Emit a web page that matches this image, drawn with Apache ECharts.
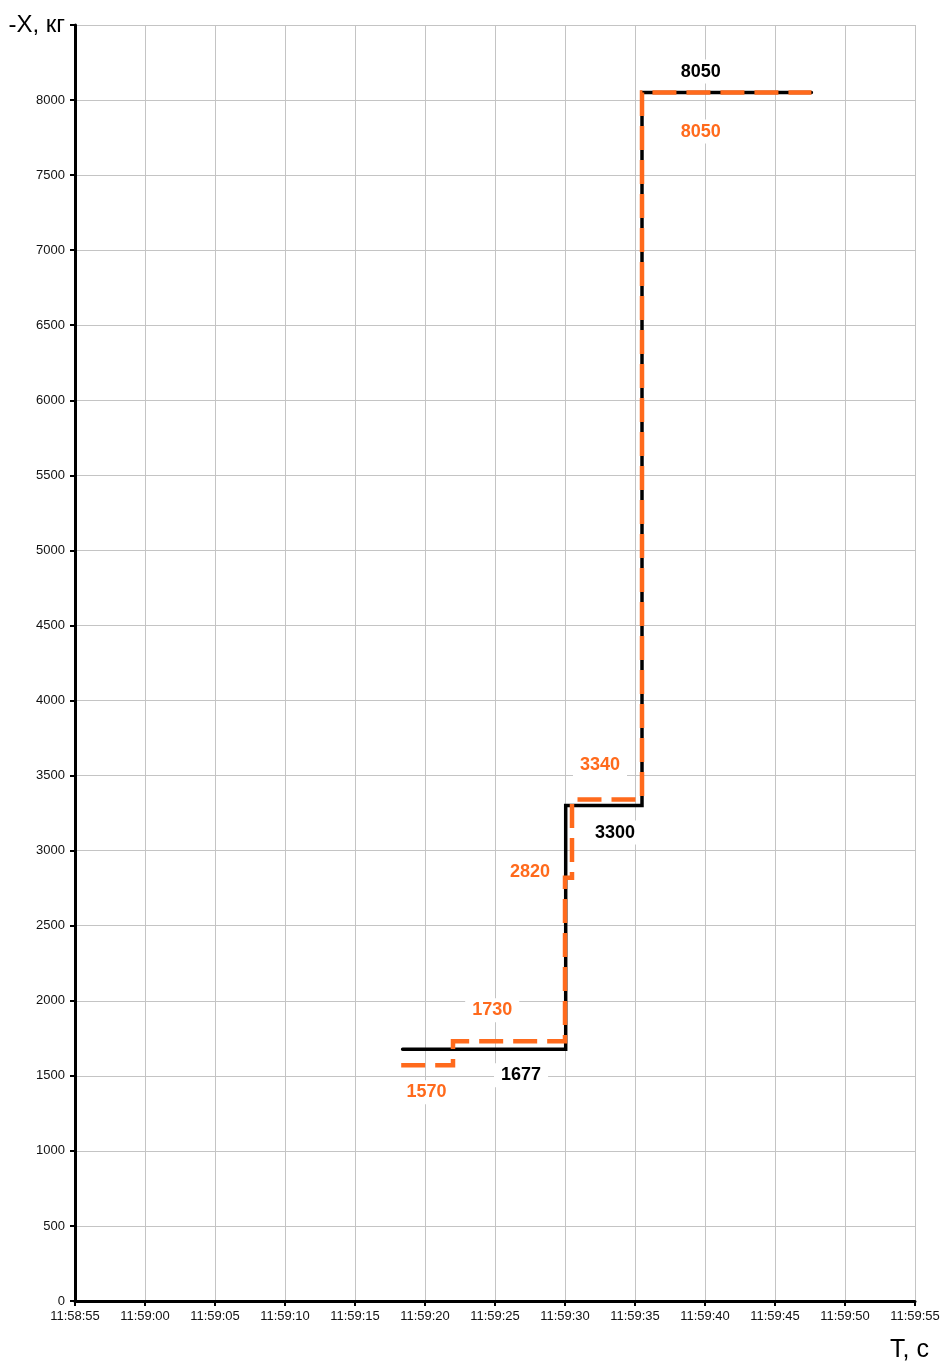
<!DOCTYPE html>
<html>
<head>
<meta charset="utf-8">
<script src="https://cdn.jsdelivr.net/npm/echarts@6/dist/echarts.min.js"></script>
<style>
  html, body { margin: 0; padding: 0; background: #fff; }
  #chart { width: 944px; height: 1365px; }
</style>
</head>
<body>
<div id="chart"></div>
<script>
// data
const blackTimes = ["11:59:18.4", "11:59:30.05", "11:59:30.05", "11:59:35.5", "11:59:35.5", "11:59:47.6"];
const blackValues = [1677, 1677, 3300, 3300, 8050, 8050];
const orangeTimes = ["11:59:18.3", "11:59:22.0", "11:59:22.0", "11:59:30.0", "11:59:30.0", "11:59:30.5", "11:59:30.5", "11:59:35.5", "11:59:35.5", "11:59:47.6"];
const orangeValues = [1570, 1570, 1730, 1730, 2820, 2820, 3340, 3340, 8050, 8050];
// labels: [time anchor, value]
const blackLabels = [["11:59:26.86", 1677], ["11:59:33.57", 3300], ["11:59:39.7", 8050]];
const orangeLabels = [["11:59:20.1", 1570], ["11:59:24.8", 1730], ["11:59:27.5", 2820], ["11:59:32.5", 3340], ["11:59:39.7", 8050]];
const xMin = "11:58:55", xMax = "11:59:55";

function toSec(s) {
  const p = s.split(":");
  return +p[0] * 3600 + +p[1] * 60 + +p[2];
}
function fmt(v) {
  const pad = n => (n < 10 ? "0" : "") + n;
  const h = Math.floor(v / 3600), m = Math.floor((v % 3600) / 60), s = Math.round(v % 60);
  return pad(h) + ":" + pad(m) + ":" + pad(s);
}
function pairs(ts, vs) {
  return ts.map((t, i) => [toSec(t), vs[i]]);
}

const ORANGE = "#ff6a1c";
// offsets in px for labels (black/orange)
const blackOffsets = [[0, 26], [0, 27], [0, -21]];
const orangeOffsets = [[0, 27], [0, -31], [0, -6], [0, -35], [0, 39]];

function marks(list, offs, color) {
  return {
    symbol: "circle",
    symbolSize: 0,
    silent: true,
    label: {
      show: true,
      position: "inside",
      color: color,
      fontSize: 18,
      fontWeight: "bold",
      fontFamily: "Liberation Sans, Arial, sans-serif",
      backgroundColor: "#fff",
      padding: [3, 7]
    },
    data: list.map((l, i) => ({
      coord: [toSec(l[0]), l[1]],
      value: l[1],
      label: { offset: offs[i], formatter: String(l[1]) }
    }))
  };
}

const chart = echarts.init(document.getElementById("chart"));
chart.setOption({
  animation: false,
  grid: { left: 75, right: 29, top: 25, bottom: 64 },
  xAxis: {
    type: "value",
    min: toSec(xMin),
    max: toSec(xMax),
    interval: 5,
    name: "T, с",
    nameLocation: "end",
    nameGap: 14,
    nameTextStyle: {
      fontSize: 25,
      color: "#000",
      fontFamily: "Liberation Sans, Arial, sans-serif",
      align: "right",
      verticalAlign: "top",
      padding: [37, 0, 0, 0]
    },
    axisLine: { show: true, onZero: false, lineStyle: { color: "#000", width: 3 } },
    axisTick: { show: true, length: 5, lineStyle: { color: "#000", width: 2 } },
    axisLabel: {
      color: "#111",
      fontSize: 13,
      margin: 9,
      fontFamily: "Liberation Sans, Arial, sans-serif",
      formatter: v => fmt(v)
    },
    splitLine: { show: true, lineStyle: { color: "#c4c4c4", width: 1 } }
  },
  yAxis: {
    type: "value",
    min: 0,
    max: 8500,
    interval: 500,
    name: "-X, кг",
    nameLocation: "end",
    nameGap: 0,
    nameTextStyle: {
      fontSize: 24,
      color: "#000",
      fontFamily: "Liberation Sans, Arial, sans-serif",
      align: "right",
      verticalAlign: "middle",
      padding: [0, 10, 10, 0]
    },
    axisLine: { show: true, lineStyle: { color: "#000", width: 3 } },
    axisTick: { show: true, length: 5, lineStyle: { color: "#000", width: 2 } },
    axisLabel: {
      color: "#111",
      fontSize: 13,
      margin: 10,
      fontFamily: "Liberation Sans, Arial, sans-serif",
      formatter: v => (v === 8500 ? "" : String(v))
    },
    splitLine: { show: true, lineStyle: { color: "#c4c4c4", width: 1 } }
  },
  series: [
    {
      type: "line",
      name: "black",
      data: pairs(blackTimes, blackValues),
      showSymbol: false,
      symbol: "none",
      lineStyle: { color: "#000", width: 3.5, cap: "round", join: "miter" },
      z: 2,
      markPoint: marks(blackLabels, blackOffsets, "#000")
    },
    {
      type: "line",
      name: "orange",
      data: pairs(orangeTimes, orangeValues),
      showSymbol: false,
      symbol: "none",
      lineStyle: { color: ORANGE, width: 4.5, type: [24, 10], join: "miter" },
      z: 3,
      markPoint: marks(orangeLabels, orangeOffsets, ORANGE)
    }
  ]
});
</script>
</body>
</html>
